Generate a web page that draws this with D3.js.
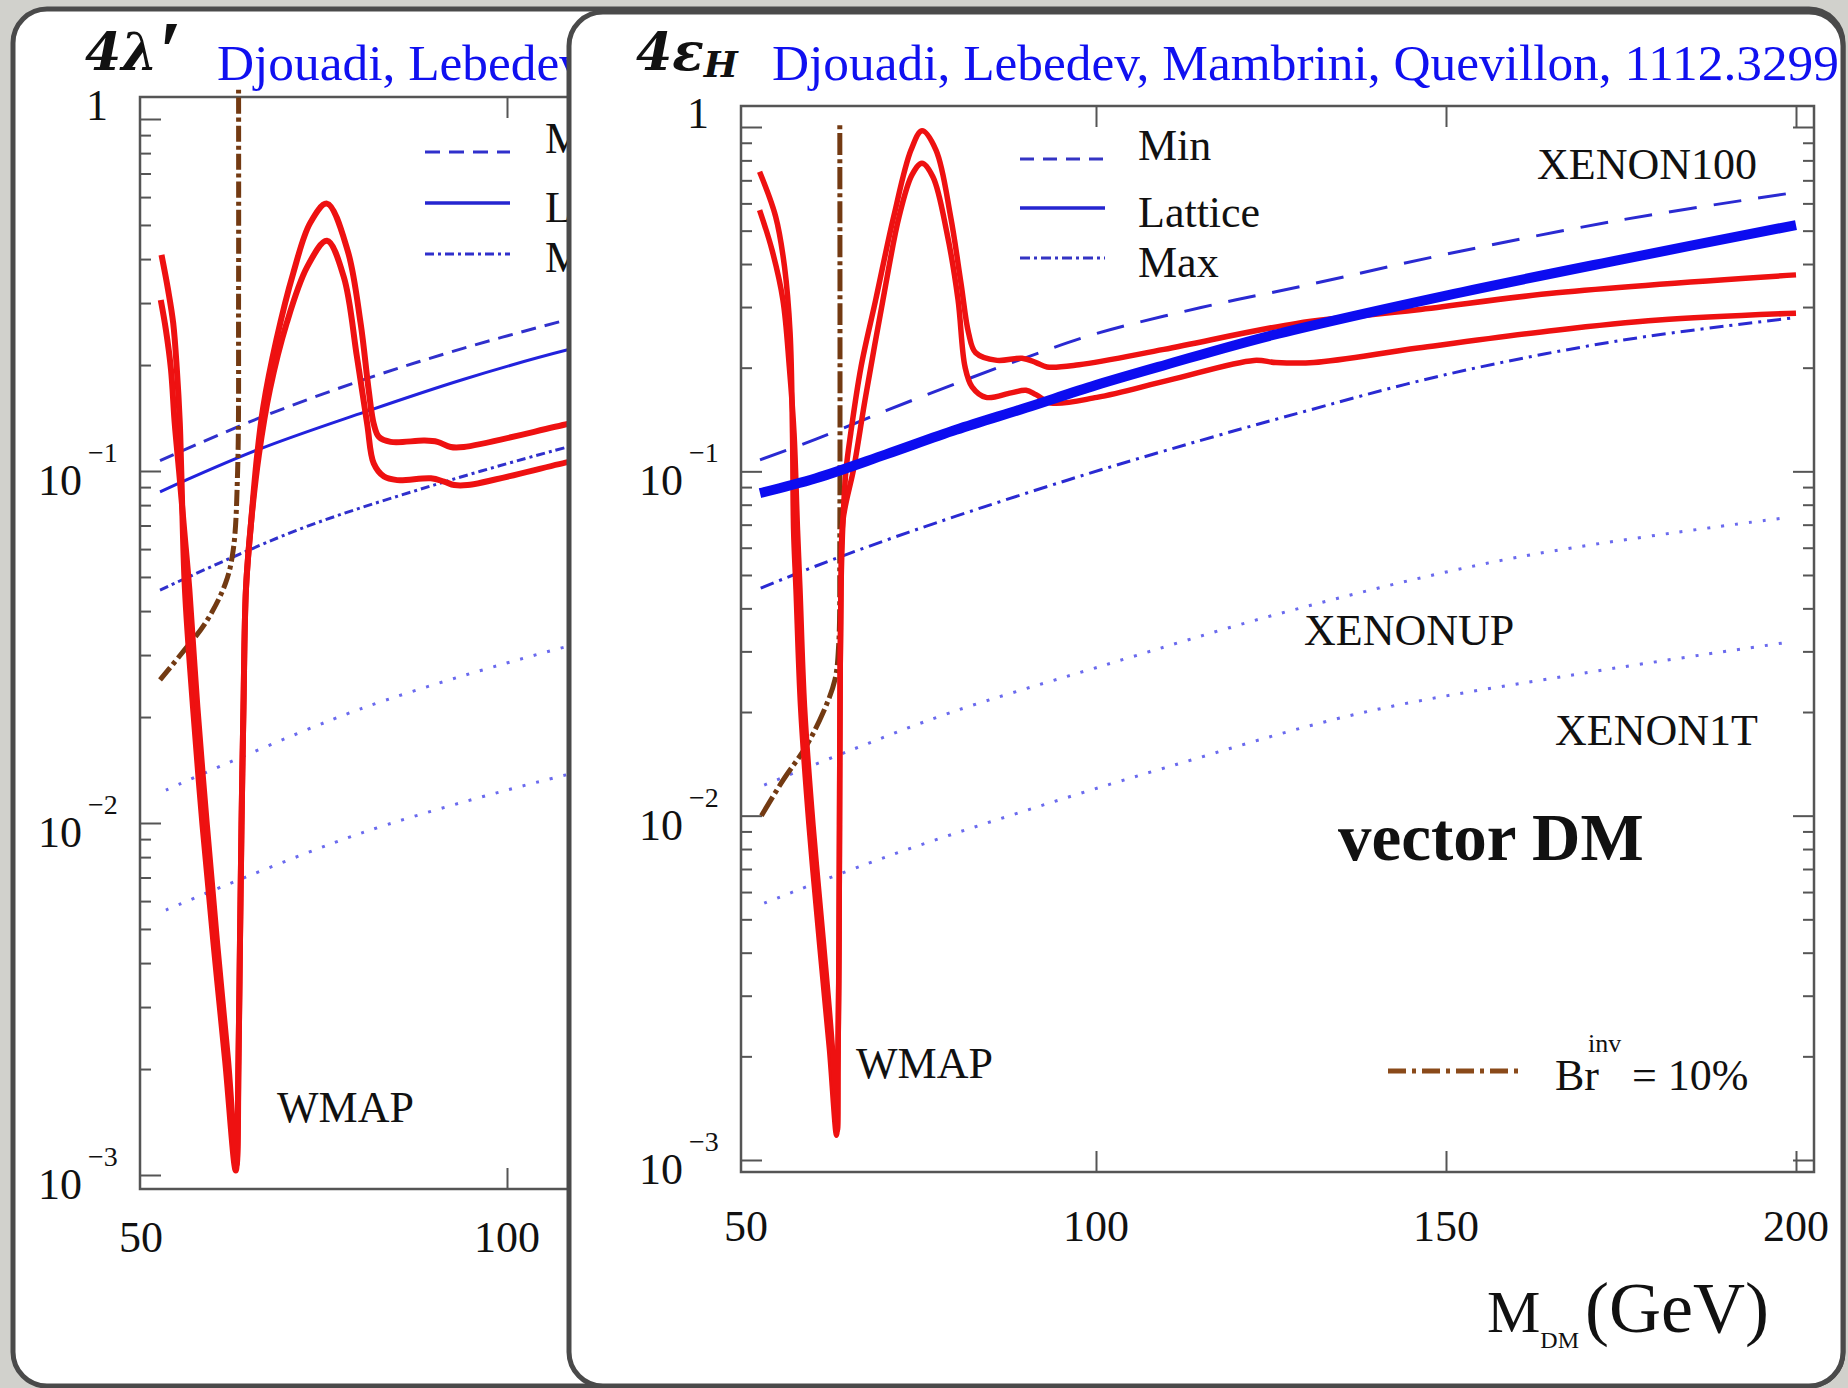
<!DOCTYPE html>
<html>
<head>
<meta charset="utf-8">
<script src="https://cdn.jsdelivr.net/npm/d3@7/dist/d3.min.js"></script>
<style>
    html, body { margin: 0; padding: 0; background: #d1d1cc; }
    svg { display: block; }
    text { font-family: "Liberation Serif", "DejaVu Serif", serif; fill: #111; }
    text.ttl { font-family: "DejaVu Serif", serif; }
</style>
</head>
<body>
<script>
// ---- values ----
var massDomain = [50, 200];
var couplingDomain = [1e-3, 1];
var massTickValues = [100, 150, 200];
var massTickLabels = [50, 100, 150, 200];
var decadeExponents = [-3, -2, -1, 0];
var citation = "Djouadi, Lebedev, Mambrini, Quevillon, 1112.3299";
var citationCut = "Djouadi, Lebedev,";
var legendNames = ["Min", "Lattice", "Max"];

// left (covered) panel: 4 lambda'
var scalarRelicOuter = [[52.8, 0.411], [53.7, 0.327], [54.4, 0.263], [54.9, 0.194], [55.3, 0.137], [55.5, 0.100],
    [56.0, 0.0462], [57.1, 0.0214], [58.4, 0.00987], [59.9, 0.00456], [61.5, 0.00211], [62.94, 0.00103],
    [63.32, 0.00211], [63.52, 0.00456], [63.73, 0.00987], [64.0, 0.0214], [64.34, 0.0462], [65.03, 0.0711],
    [65.85, 0.110], [66.7, 0.152], [68.5, 0.236], [70.8, 0.365], [73.1, 0.506], [75.4, 0.575], [78.2, 0.425],
    [80.0, 0.263], [81.1, 0.170], [81.8, 0.136], [82.5, 0.125], [84.1, 0.121], [88.7, 0.122], [90.5, 0.121],
    [92.3, 0.117], [94.1, 0.117], [108.3, 0.136], [112, 0.141]];
var scalarRelicInner = [[52.7, 0.306], [53.4, 0.252], [54.1, 0.194], [54.6, 0.137], [55.2, 0.100], [55.9, 0.0680],
    [56.6, 0.0462], [57.7, 0.0214], [59.0, 0.00987], [60.4, 0.00456], [61.9, 0.00211], [63.05, 0.00107],
    [63.32, 0.00211], [63.52, 0.00456], [63.73, 0.00987], [64.0, 0.0214], [64.34, 0.0462], [65.03, 0.0711],
    [66.1, 0.111], [67.6, 0.170], [69.9, 0.263], [72.7, 0.380], [75.4, 0.451], [77.7, 0.356], [79.5, 0.211],
    [80.9, 0.136], [81.8, 0.105], [83.2, 0.0964], [85.0, 0.0942], [89.6, 0.0953], [91.4, 0.0933], [92.8, 0.0912],
    [94.6, 0.0912], [108.3, 0.106], [112, 0.110]];
var scalarMin = [[52.6, 0.107], [66, 0.141], [80.5, 0.182], [94, 0.223], [108.3, 0.269], [112, 0.280]];
var scalarLattice = [[52.6, 0.0873], [66, 0.115], [80.5, 0.147], [94, 0.182], [108.3, 0.221], [112, 0.230]];
var scalarMax = [[52.6, 0.0459], [71.3, 0.0679], [90, 0.0912], [108.3, 0.117], [112, 0.122]];
var scalarXenonUp = [[53.4, 0.0124], [80, 0.0211], [108.1, 0.0317], [112, 0.0330]];
var scalarXenon1T = [[53.4, 0.00566], [80, 0.00935], [108.1, 0.0137], [112, 0.0142]];
var scalarBrInv = [[52.6, 0.0255], [55.6, 0.0304], [58.8, 0.0370], [61.55, 0.0480], [62.6, 0.0597], [63.2, 0.100],
    [63.33, 0.316], [63.33, 1.22]];

// right panel: vector DM, 4 eps_H
var vectorRelicOuter = [[51.94, 0.741], [54.24, 0.549], [55.5, 0.393], [56.3, 0.252], [56.64, 0.129], [56.8, 0.0676],
    [57.14, 0.0455], [57.8, 0.0207], [59.0, 0.0094], [60.5, 0.00427], [61.93, 0.00209], [62.93, 0.00118],
    [63.14, 0.00194], [63.29, 0.00427], [63.36, 0.0094], [63.43, 0.0207], [63.57, 0.0455], [63.86, 0.0722],
    [64.29, 0.101], [64.96, 0.129], [66.43, 0.201], [68.53, 0.315], [71.09, 0.548], [73.57, 0.857], [75.14, 0.975],
    [77.14, 0.857], [79.24, 0.548], [80.71, 0.352], [81.8, 0.252], [82.81, 0.221], [85.86, 0.210], [89.43, 0.213],
    [91.43, 0.207], [93.0, 0.201], [97.57, 0.204], [109.7, 0.226], [128.7, 0.269], [145.7, 0.294], [165.8, 0.330],
    [200, 0.372]];
var vectorRelicInner = [[51.94, 0.574], [53.71, 0.440], [55.27, 0.315], [56.19, 0.201], [56.86, 0.129], [57.36, 0.0676],
    [57.71, 0.0455], [58.36, 0.0207], [59.57, 0.0094], [61.07, 0.00427], [62.36, 0.00209], [63.07, 0.00122],
    [63.14, 0.00194], [63.29, 0.00427], [63.36, 0.0094], [63.43, 0.0207], [63.57, 0.0455], [63.86, 0.0722],
    [65.43, 0.103], [67.0, 0.161], [69.57, 0.315], [71.86, 0.548], [73.71, 0.726], [75.14, 0.785], [76.71, 0.716],
    [78.71, 0.492], [80.29, 0.315], [81.29, 0.201], [82.29, 0.176], [84.29, 0.164], [87.86, 0.169], [90.0, 0.172],
    [91.43, 0.167], [93.57, 0.158], [100.14, 0.164], [110.43, 0.184], [122.57, 0.210], [125.71, 0.207],
    [131.14, 0.207], [146.0, 0.228], [165.7, 0.257], [180.4, 0.275], [200, 0.288]];
var vectorMin = [[52.0, 0.108], [60, 0.124], [70, 0.150], [80, 0.180], [90, 0.214], [100, 0.251], [115, 0.299],
    [130, 0.347], [150, 0.427], [175, 0.537], [200, 0.646]];
var vectorLattice = [[52.0, 0.0865], [60, 0.0955], [70, 0.112], [80, 0.132], [90, 0.153], [100, 0.178], [110, 0.204],
    [125, 0.248], [150, 0.324], [175, 0.412], [200, 0.519]];
var vectorMax = [[52.1, 0.0458], [60, 0.0531], [70, 0.0631], [80, 0.0741], [96, 0.0944], [110, 0.115], [127, 0.144],
    [150, 0.191], [175, 0.240], [199.6, 0.279]];
var vectorXenonUp = [[52.6, 0.01227], [65, 0.0155], [79, 0.01986], [100, 0.0269], [128, 0.0395], [160, 0.0562], [198, 0.0731]];
var vectorXenon1T = [[52.6, 0.00557], [70, 0.00759], [89, 0.0102], [110, 0.0138], [138, 0.0199], [170, 0.0260], [198, 0.0317]];
var vectorBrInv = [[52.2, 0.0100], [55.3, 0.01268], [58.5, 0.0158], [61.0, 0.0199], [62.7, 0.0248], [63.25, 0.0316],
    [63.4, 0.063], [63.4, 1.04]];

/**
 * One log-scale coupling plot sitting on a slide panel
 * @class
 * @param parent  parent selection
 * @param frame  {x0, x1, y0, y1} of the plot box
 * @param xRange  pixel range for 50..200 GeV
 * @param yRange  pixel range for 1e-3..1
 */
var CouplingPlot = function (parent, frame, xRange, yRange) {
    var _g = parent.append("g");
    var _x = d3.scaleLinear().domain(massDomain).range(xRange);
    var _y = d3.scaleLog().domain(couplingDomain).range(yRange);
    var _line = d3.line()
        .x(function (d) { return _x(d[0]); })
        .y(function (d) { return _y(d[1]); })
        .curve(d3.curveCatmullRom.alpha(0.5));

    /**
     * Box, inward ticks and tick labels
     */
    this.drawAxes = function (xLabelY) {
        var all = _y.ticks();
        var major = all.filter(function (v) { return Math.abs(Math.log10(v) - Math.round(Math.log10(v))) < 1e-6; });
        var minor = all.filter(function (v) { return major.indexOf(v) < 0; });
        var ax = _g.append("g").attr("class", "axes");

        _g.append("rect")
            .attr("x", frame.x0).attr("y", frame.y0)
            .attr("width", frame.x1 - frame.x0).attr("height", frame.y1 - frame.y0)
            .attr("fill", "none").attr("stroke", "#555").attr("stroke-width", 2.5);

        var tickSets = [[minor, 11], [major, 21]];
        tickSets.forEach(function (s) {
            ax.append("g").attr("transform", "translate(" + frame.x0 + ",0)")
                .call(d3.axisRight(_y).tickValues(s[0]).tickSize(s[1]).tickFormat(""));
            ax.append("g").attr("transform", "translate(" + frame.x1 + ",0)")
                .call(d3.axisLeft(_y).tickValues(s[0]).tickSize(s[1]).tickFormat(""));
        });
        ax.append("g").attr("transform", "translate(0," + frame.y0 + ")")
            .call(d3.axisBottom(_x).tickValues(massTickValues).tickSize(21).tickFormat(""));
        ax.append("g").attr("transform", "translate(0," + frame.y1 + ")")
            .call(d3.axisTop(_x).tickValues(massTickValues).tickSize(21).tickFormat(""));
        ax.selectAll(".domain").remove();
        ax.selectAll(".tick line").attr("stroke", "#555").attr("stroke-width", 2);

        decadeExponents.forEach(function (e) {
            var py = _y(Math.pow(10, e));
            if (e === 0) {
                _g.append("text").attr("x", frame.x0 - 43).attr("y", py + 1)
                    .attr("text-anchor", "middle").attr("font-size", 44).text("1");
                return;
            }
            var t = _g.append("text").attr("x", frame.x0 - 102).attr("y", py + 24).attr("font-size", 44);
            t.append("tspan").text("10");
            t.append("tspan").attr("dx", 6).attr("dy", -33).attr("font-size", 28).text("\u2212" + (-e));
        });

        _g.selectAll("text.xlab").data(massTickLabels).enter().append("text")
            .attr("class", "xlab")
            .attr("x", function (d) { return _x(d); })
            .attr("y", xLabelY)
            .attr("text-anchor", "middle").attr("font-size", 44)
            .text(function (d) { return d; });
    }

    /**
     * Draw one curve
     * @param data [[mass, coupling], ...]
     * @param style {stroke, width, dash}
     */
    this.drawCurve = function (data, style) {
        _g.append("path")
            .datum(data)
            .attr("d", _line)
            .attr("fill", "none")
            .attr("stroke", style.stroke)
            .attr("stroke-width", style.width)
            .attr("stroke-dasharray", style.dash || null)
            .attr("stroke-linejoin", "round");
    }

    /**
     * Plain text label at pixel position
     */
    this.label = function (txt, x, y, size, weight) {
        return _g.append("text").attr("x", x).attr("y", y)
            .attr("font-size", size).attr("font-weight", weight || "normal").text(txt);
    }

    /**
     * Legend sample line
     */
    this.legendLine = function (x0, x1, y, style) {
        _g.append("path")
            .attr("d", d3.line()([[x0, y], [x1, y]]))
            .attr("stroke", style.stroke).attr("stroke-width", style.width)
            .attr("stroke-dasharray", style.dash || null);
    }

    this.getGroup = function () {
        return _g;
    }
}

// ---- line styles ----
var redStyle = { stroke: "#ee1111", width: 5.5 };
var redStyleL = { stroke: "#ee1111", width: 6 };
var brownStyle = { stroke: "#733a12", width: 5, dash: "22,4,4,4" };
var dotStyle = { stroke: "#6a6aee", width: 3, dash: "3,11" };
var vMinStyle = { stroke: "#2a2ad2", width: 3, dash: "28,17" };
var vLatStyle = { stroke: "#0c0cf0", width: 10 };
var vMaxStyle = { stroke: "#2a2ad2", width: 3, dash: "14,6,3,6" };
var sMinStyle = { stroke: "#3030cc", width: 3, dash: "15,9" };
var sLatStyle = { stroke: "#2222dd", width: 3 };
var sMaxStyle = { stroke: "#3030cc", width: 3, dash: "9,4,3,4" };
var legMin = { stroke: "#3434c4", width: 3, dash: "14,9" };
var legLat = { stroke: "#2525d0", width: 3.5 };
var legMax = { stroke: "#3434c4", width: 3, dash: "10,4,3,4" };

var W = 1848, H = 1388;
var svg = d3.select("body").append("svg").attr("width", W).attr("height", H);
svg.append("rect").attr("width", W).attr("height", H).attr("fill", "#d1d1cc");
svg.append("defs").append("clipPath").attr("id", "leftClip")
    .append("rect").attr("x", 0).attr("y", 0).attr("width", 568).attr("height", H);

function panel(x, y, w, h) {
    svg.append("rect").attr("x", x).attr("y", y).attr("width", w).attr("height", h)
        .attr("rx", 34).attr("ry", 34)
        .attr("fill", "#fff").attr("stroke", "#4a4a4a").attr("stroke-width", 5);
}

function title(parent, x, sym, sub, prime) {
    var t = parent.append("text").attr("class", "ttl").attr("x", x).attr("y", 70)
        .attr("font-size", 52).attr("font-weight", "bold").attr("font-style", "italic");
    t.append("tspan").text(sym);
    if (sub) t.append("tspan").attr("font-size", 36).attr("dy", 7).text(sub);
    if (prime) t.append("tspan").style("font-family", "'Liberation Serif'")
        .attr("font-size", 84).attr("dx", 0).attr("dy", 10).text(prime);
}

function cite(parent, x, txt) {
    var c = parent.append("text").attr("x", x).attr("y", 80).attr("font-size", 50)
        .style("fill", "#1010f0").text(citation);
    var w = c.node().getComputedTextLength();
    c.attr("font-size", 50 * 1067 / w).text(txt);
}

// ---------- left slide (partly hidden) ----------
panel(13, 9, 1830, 1377);
var leftLayer = svg.append("g").attr("clip-path", "url(#leftClip)");
title(leftLayer, 85, "4\u03bb", null, "\u2032");
cite(leftLayer, 217, citationCut);

var left = new CouplingPlot(leftLayer, { x0: 140, x1: 1300, y0: 97, y1: 1189 }, [141, 1239], [1175, 119]);
left.drawAxes(1252);
left.drawCurve(scalarXenonUp, dotStyle);
left.drawCurve(scalarXenon1T, dotStyle);
left.drawCurve(scalarMax, sMaxStyle);
left.drawCurve(scalarMin, sMinStyle);
left.drawCurve(scalarLattice, sLatStyle);
left.drawCurve(scalarBrInv, { stroke: "#733a12", width: 5, dash: "16,4,4,4" });
left.drawCurve(scalarRelicOuter, redStyleL);
left.drawCurve(scalarRelicInner, redStyleL);
left.legendLine(425, 510, 152, sMinStyle);
left.legendLine(425, 510, 203, legLat);
left.legendLine(425, 510, 254, sMaxStyle);
[153, 222, 272].forEach(function (y, i) { left.label(legendNames[i], 545, y, 44); });
left.label("WMAP", 277, 1122, 44);

// ---------- right slide ----------
panel(569, 12, 1274, 1374);
title(svg, 636, "4\u03b5", "H");
cite(svg, 772, citation);

var right = new CouplingPlot(svg, { x0: 741, x1: 1814, y0: 106, y1: 1172 }, [746, 1796], [1160, 127]);
right.drawAxes(1241);
right.drawCurve(vectorXenonUp, dotStyle);
right.drawCurve(vectorXenon1T, dotStyle);
right.drawCurve(vectorMax, vMaxStyle);
right.drawCurve(vectorMin, vMinStyle);
right.drawCurve(vectorBrInv, brownStyle);
right.drawCurve(vectorRelicOuter, redStyle);
right.drawCurve(vectorRelicInner, redStyle);
right.drawCurve(vectorLattice, vLatStyle);

right.legendLine(1020, 1105, 159, legMin);
right.legendLine(1020, 1105, 208, legLat);
right.legendLine(1020, 1105, 258, legMax);
[160, 227, 277].forEach(function (y, i) { right.label(legendNames[i], 1138, y, 44); });

right.label("XENON100", 1537, 179, 44);
right.label("XENONUP", 1304, 645, 44);
right.label("XENON1T", 1555, 745, 44);
right.label("vector DM", 1338, 860, 67, "bold");
right.label("WMAP", 856, 1078, 44);

right.legendLine(1388, 1522, 1071, { stroke: "#8a4a1a", width: 5, dash: "18,6,4,6" });
right.label("Br", 1555, 1090, 44);
right.label("inv", 1588, 1052, 26);
right.label("= 10%", 1632, 1090, 44);

// axis title as a single text: M, DM subscript, (GeV)
var ax = right.label("M", 1487, 1332, 60);
ax.append("tspan").attr("font-size", 24).attr("dy", 16).text("DM");
ax.append("tspan").attr("font-size", 72).attr("dx", 6).attr("dy", -16).text("(GeV)");
</script>
</body>
</html>
